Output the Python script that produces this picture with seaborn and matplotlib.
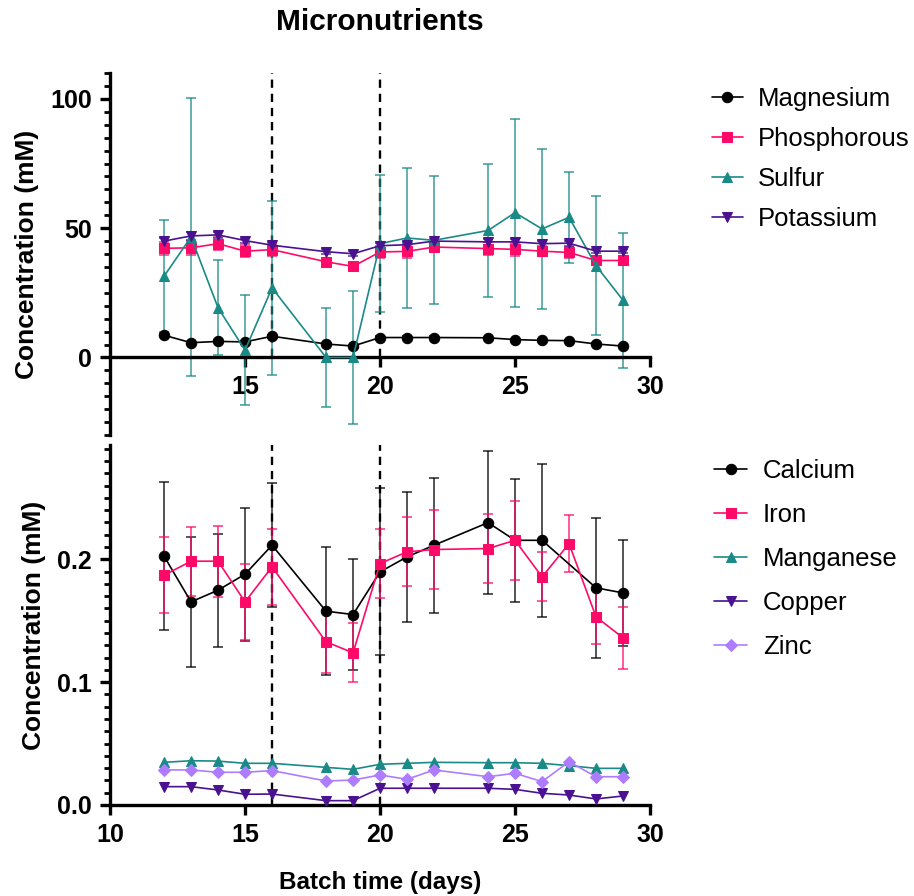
import numpy as np
import pandas as pd
import seaborn as sns
from matplotlib import pyplot as plt
from matplotlib.ticker import MultipleLocator

sns.set_style('ticks')
plt.rcParams['font.family'] = ['Liberation Sans', 'DejaVu Sans']
plt.rcParams.update({'text.color': 'black', 'axes.labelcolor': 'black',
                     'xtick.color': 'black', 'ytick.color': 'black',
                     'axes.edgecolor': 'black'})

# batch days sampled
days = [12, 13, 14, 15, 16, 18, 19, 20, 21, 22, 24, 25, 26, 27, 28, 29]
days_ca = [12, 13, 14, 15, 16, 18, 19, 20, 21, 22, 24, 25, 26, 28, 29]

# top panel (mM), mean and SD
magnesium = [8.6, 5.7, 6.2, 6.0, 8.2, 5.2, 4.4, 7.7, 7.7, 7.7, 7.6, 6.9, 6.6, 6.5, 5.2, 4.4]
magnesium_sd = [0.5, 0.4, 0.4, 0.4, 0.5, 0.4, 0.3, 0.5, 0.4, 0.4, 0.4, 0.4, 0.4, 0.4, 0.3, 0.3]
phosphorous = [42.2, 42.4, 44.0, 41.1, 41.7, 37.0, 35.2, 40.8, 41.0, 42.7, 42.1, 41.8, 41.1, 40.6, 37.5, 37.5]
phosphorous_sd = [2.5, 2.6, 2.4, 2.2, 2.3, 1.5, 1.4, 2.4, 2.5, 2.0, 2.5, 2.4, 2.0, 2.3, 1.8, 1.6]
sulfur = [31.4, 46.6, 19.2, 2.8, 26.9, 0.0, 0.0, 44.0, 46.2, 45.3, 49.1, 56.0, 49.7, 54.2, 35.5, 22.1]
sulfur_sd = [21.7, 53.8, 18.4, 21.3, 33.5, 19.3, 25.6, 26.5, 27.0, 24.7, 25.9, 36.3, 31.0, 17.6, 26.9, 26.2]
potassium = [45.0, 47.0, 47.4, 45.2, 43.4, 40.9, 40.1, 43.2, 43.6, 45.0, 44.7, 44.7, 44.0, 44.2, 41.1, 41.1]
potassium_sd = [1.3, 1.5, 1.2, 1.0, 1.1, 0.9, 1.0, 1.2, 1.1, 1.0, 1.2, 1.3, 1.1, 1.0, 0.9, 0.9]

# bottom panel (mM), mean and SD
calcium = [0.2025, 0.1653, 0.1748, 0.1878, 0.2114, 0.1577, 0.1550, 0.1897, 0.2019, 0.2114,
           0.2298, 0.2154, 0.2154, 0.1767, 0.1726]
calcium_sd = [0.060, 0.053, 0.046, 0.054, 0.0505, 0.052, 0.045, 0.068, 0.053, 0.055,
              0.058, 0.050, 0.0625, 0.057, 0.043]
iron = [0.187, 0.1984, 0.1984, 0.1653, 0.1938, 0.1328, 0.1238, 0.1965, 0.206, 0.2079,
        0.2087, 0.2154, 0.1856, 0.2127, 0.1531, 0.136]
iron_sd = [0.031, 0.028, 0.029, 0.031, 0.031, 0.025, 0.024, 0.028, 0.028, 0.0325,
           0.028, 0.032, 0.020, 0.023, 0.022, 0.025]
manganese = [0.0347, 0.0360, 0.0357, 0.0339, 0.0339, 0.0306, 0.0290, 0.0331, 0.0339, 0.0347,
             0.0344, 0.0344, 0.0339, 0.0320, 0.0298, 0.0298]
copper = [0.0149, 0.0149, 0.0122, 0.0087, 0.0089, 0.0035, 0.0035, 0.0136, 0.0136, 0.0136,
          0.0136, 0.0127, 0.0095, 0.0081, 0.0049, 0.0073]
zinc = [0.0285, 0.0285, 0.0266, 0.0266, 0.0280, 0.0195, 0.0203, 0.0244, 0.0209, 0.0285,
        0.0230, 0.0258, 0.0190, 0.0352, 0.0230, 0.0230]

BLACK = '#000000'
PINK = '#FF0A68'
TEAL = '#1A8A87'
PURPLE = '#4A1190'
LAVENDER = '#AE7DFF'

top_series = [
    ('Magnesium', days, magnesium, magnesium_sd, BLACK, 'o'),
    ('Phosphorous', days, phosphorous, phosphorous_sd, PINK, 's'),
    ('Sulfur', days, sulfur, sulfur_sd, TEAL, '^'),
    ('Potassium', days, potassium, potassium_sd, PURPLE, 'v'),
]
bottom_series = [
    ('Calcium', days_ca, calcium, calcium_sd, BLACK, 'o'),
    ('Iron', days, iron, iron_sd, PINK, 's'),
    ('Manganese', days, manganese, None, TEAL, '^'),
    ('Copper', days, copper, None, PURPLE, 'v'),
    ('Zinc', days, zinc, None, LAVENDER, 'D'),
]

fig = plt.figure(figsize=(9.14, 8.96), dpi=100)
ax1 = fig.add_axes([0.1204, 0.5145, 0.5908, 0.404])
ax2 = fig.add_axes([0.1204, 0.1016, 0.5908, 0.4018])


def draw_panel(ax, series):
    for name, x, y, sd, col, mk in series:
        if sd is not None:
            ax.errorbar(x, y, yerr=sd, fmt='none', ecolor=col, elinewidth=1.1,
                        capsize=3.5, capthick=1.1, alpha=0.85, zorder=2)
        ms = 6.5 if mk == 'D' else 7.5
        sns.lineplot(x=x, y=y, ax=ax, color=col, marker=mk, markersize=ms,
                     markeredgecolor=col, linewidth=1.2, label=name, zorder=3,
                     estimator=None, sort=False)


def style_axis(ax):
    for side in ['top', 'right']:
        ax.spines[side].set_visible(False)
    for side in ['left', 'bottom']:
        ax.spines[side].set_linewidth(2.4)
    ax.tick_params(axis='both', which='major', direction='out', length=7, width=2.4,
                   labelsize=18, pad=6)
    ax.tick_params(axis='y', which='minor', direction='out', length=4.5, width=2.0)
    for lab in ax.get_xticklabels() + ax.get_yticklabels():
        lab.set_fontweight('bold')
    ax.set_xlim(10, 30)
    ax.get_legend().remove()


draw_panel(ax1, top_series)
ax1.vlines([16, 20], 0, 110, colors='black', linestyles=(0, (3.5, 2.5)), linewidth=1.7, zorder=1)
ax1.set_ylim(-30, 110)
ax1.spines['bottom'].set_position(('data', 0))
ax1.set_xticks([15, 20, 25, 30])
ax1.set_yticks([0, 50, 100])
ax1.yaxis.set_minor_locator(MultipleLocator(5))
style_axis(ax1)
ax1.set_ylabel('Concentration (mM)', fontsize=19, fontweight='bold', labelpad=8)
ax1.set_xlabel('')
ax1.set_title('Micronutrients', fontsize=21.5, fontweight='bold', pad=31)

draw_panel(ax2, bottom_series)
ax2.vlines([16, 20], 0, 0.293, colors='black', linestyles=(0, (3.5, 2.5)), linewidth=1.7, zorder=1)
ax2.set_ylim(0, 0.293)
ax2.set_xticks([10, 15, 20, 25, 30])
ax2.set_yticks([0.0, 0.1, 0.2])
ax2.set_yticklabels(['0.0', '0.1', '0.2'])
ax2.yaxis.set_minor_locator(MultipleLocator(0.01))
style_axis(ax2)
ax2.set_ylabel('Concentration (mM)', fontsize=19, fontweight='bold', labelpad=8)
ax2.set_xlabel('Batch time (days)', fontsize=17.5, fontweight='bold', labelpad=17)

h1, l1 = ax1.get_legend_handles_labels()
fig.legend(h1, l1, loc='upper left', bbox_to_anchor=(0.765, 0.9175), frameon=False,
           fontsize=18.5, handlelength=1.2, handletextpad=0.6, labelspacing=0.62, borderpad=0)
h2, l2 = ax2.get_legend_handles_labels()
fig.legend(h2, l2, loc='upper left', bbox_to_anchor=(0.767, 0.5025), frameon=False,
           fontsize=18.5, handlelength=1.3, handletextpad=0.6, labelspacing=0.78, borderpad=0)

fig.savefig('out.png', dpi=100)
